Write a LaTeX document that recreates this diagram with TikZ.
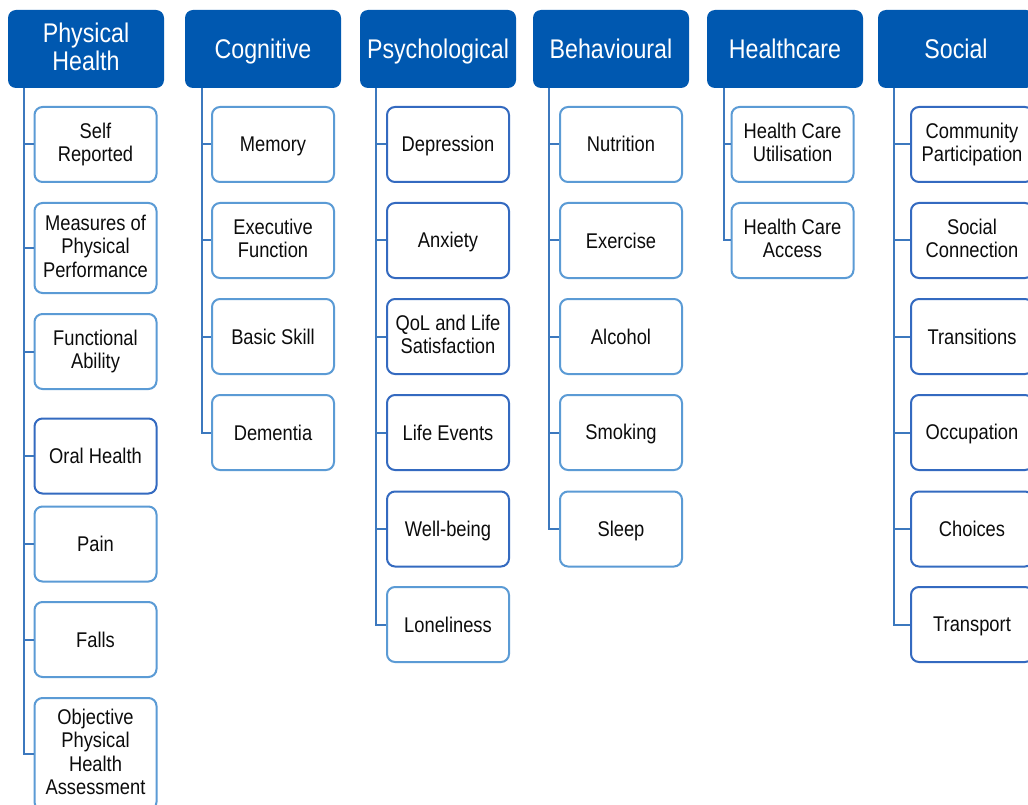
\documentclass[tikz,border=0pt]{standalone}
\usepackage{fontspec}
\setmainfont{Liberation Sans}[FakeStretch=0.86]
\definecolor{hdr}{RGB}{0,88,176}
\definecolor{lite}{RGB}{91,155,213}
\definecolor{darkb}{RGB}{52,106,192}
\definecolor{trunk}{RGB}{60,120,190}
\definecolor{txt}{RGB}{12,12,12}
\newcommand\itst{\rule[-4.25pt]{0pt}{23.5pt}}
\newcommand\hdst{\rule[-4.35pt]{0pt}{28pt}}
\tikzset{
 hdrbox/.style={fill=hdr, draw=none, rounded corners=8pt, minimum width=156pt, minimum height=78pt, text=white, font=\fontsize{27}{28}\selectfont, align=center, inner sep=0pt, execute at begin node=\hdst, execute at end node=\hdst},
 itembox/.style={draw=lite, line width=2pt, fill=white, rounded corners=8pt, minimum width=122pt, minimum height=75pt, align=center, font=\fontsize{21.3}{23.5}\selectfont, text=txt, inner sep=0pt, execute at begin node=\itst, execute at end node=\itst},
 darkbox/.style={itembox, draw=darkb},
 link/.style={draw=trunk, line width=2pt}
}
\begin{document}
\begin{tikzpicture}[x=1pt,y=-1pt]
\useasboundingbox (0,0) rectangle (1028,805);
\clip (0,0) rectangle (1028,805);
\fill[white] (0,0) rectangle (1028,805);
% headers
\node[hdrbox] (hP) at (86,49) {Physical\\Health};
\node[hdrbox] (hC) at (263,49) {Cognitive};
\node[hdrbox] (hS) at (438,49) {Psychological};
\node[hdrbox] (hB) at (611,49) {Behavioural};
\node[hdrbox] (hH) at (785,49) {Healthcare};
\node[hdrbox] (hO) at (956,49) {Social};
% trunk tops
\coordinate (tP) at (24,88);
\coordinate (tC) at (202,88);
\coordinate (tS) at (376,88);
\coordinate (tB) at (549,88);
\coordinate (tH) at (724,88);
\coordinate (tO) at (894,88);
% Physical
\node[itembox] (p1) at (95.5,144.5) {Self\\Reported};
\node[itembox, minimum height=90pt] (p2) at (95.5,248) {Measures of\\Physical\\Performance};
\node[itembox] (p3) at (95.5,351.5) {Functional\\Ability};
\node[darkbox] (p4) at (95.5,456) {Oral Health};
\node[itembox] (p5) at (95.5,544) {Pain};
\node[itembox] (p6) at (95.5,639.5) {Falls};
\node[itembox, minimum height=112pt] (p7) at (95.5,754) {Objective\\Physical\\Health\\Assessment};
% Cognitive
\node[itembox] (c1) at (273,144.5) {Memory};
\node[itembox] (c2) at (273,240.5) {Executive\\Function};
\node[itembox] (c3) at (273,336.5) {Basic Skill};
\node[itembox] (c4) at (273,432.5) {Dementia};
% Psychological
\node[darkbox] (s1) at (448,144.5) {Depression};
\node[darkbox] (s2) at (448,240.5) {Anxiety};
\node[darkbox] (s3) at (448,336.5) {QoL and Life\\Satisfaction};
\node[darkbox] (s4) at (448,432.5) {Life Events};
\node[darkbox] (s5) at (448,529) {Well-being};
\node[itembox] (s6) at (448,624.5) {Loneliness};
% Behavioural
\node[itembox] (b1) at (621,144.5) {Nutrition};
\node[itembox] (b2) at (621,240.5) {Exercise};
\node[itembox] (b3) at (621,336.5) {Alcohol};
\node[itembox] (b4) at (621,432.5) {Smoking};
\node[itembox] (b5) at (621,529) {Sleep};
% Healthcare
\node[itembox] (h1) at (792.5,144.5) {Health Care\\Utilisation};
\node[itembox] (h2) at (792.5,240.5) {Health Care\\Access};
% Social
\node[darkbox] (o1) at (972,144.5) {Community\\Participation};
\node[darkbox] (o2) at (972,240.5) {Social\\Connection};
\node[darkbox] (o3) at (972,336.5) {Transitions};
\node[darkbox] (o4) at (972,432.5) {Occupation};
\node[darkbox] (o5) at (972,529) {Choices};
\node[darkbox] (o6) at (972,624.5) {Transport};
% connectors
\draw[link] (tP) |- (p7.west);
\foreach \n in {p1,p2,p3,p4,p5,p6} \draw[link] (tP |- \n.west) -- (\n.west);
\draw[link] (tC) |- (c4.west);
\foreach \n in {c1,c2,c3} \draw[link] (tC |- \n.west) -- (\n.west);
\draw[link] (tS) |- (s6.west);
\foreach \n in {s1,s2,s3,s4,s5} \draw[link] (tS |- \n.west) -- (\n.west);
\draw[link] (tB) |- (b5.west);
\foreach \n in {b1,b2,b3,b4} \draw[link] (tB |- \n.west) -- (\n.west);
\draw[link] (tH) |- (h2.west);
\draw[link] (tH |- h1.west) -- (h1.west);
\draw[link] (tO) |- (o6.west);
\foreach \n in {o1,o2,o3,o4,o5} \draw[link] (tO |- \n.west) -- (\n.west);
\end{tikzpicture}
\end{document}
